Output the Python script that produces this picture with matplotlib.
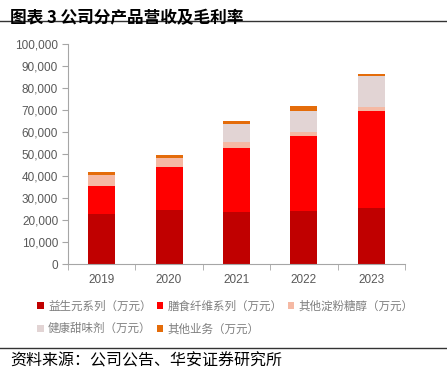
import matplotlib
matplotlib.use("Agg")
import matplotlib.pyplot as plt
import numpy as np
from matplotlib.ticker import FuncFormatter

plt.rcParams['font.family'] = ['Liberation Sans', 'Noto Sans CJK SC', 'DejaVu Sans']

# data (万元)
years = ['2019', '2020', '2021', '2022', '2023']
prebiotics = [22700, 24500, 23600, 24200, 25500]
fiber = [12900, 19400, 29100, 34000, 44200]
starch_sugar = [5000, 4300, 2600, 1600, 1800]
sweetener = [0, 0, 8300, 9600, 13800]
other = [1400, 1500, 1500, 2600, 1300]

series = [prebiotics, fiber, starch_sugar, sweetener, other]
labels = ['益生元系列（万元）', '膳食纤维系列（万元）', '其他淀粉糖醇（万元）',
          '健康甜味剂（万元）', '其他业务（万元）']
colors = ['#C00000', '#FF0000', '#F5B9A4', '#E2D4D4', '#E46C0A']

fig = plt.figure(figsize=(4.47, 3.73), dpi=100)
ax = fig.add_axes([0.152, 0.292, 0.754, 0.59])

x = np.arange(len(years))
bottom = np.zeros(len(years))
handles = []
for vals, lab, c in zip(series, labels, colors):
    h = ax.bar(x, vals, width=0.4, bottom=bottom, color=c, label=lab, linewidth=0)
    handles.append(h)
    bottom += np.array(vals)

ax.set_ylim(0, 100000)
ax.set_xlim(-0.5, 4.5)
ax.set_yticks(np.arange(0, 100001, 10000))
ax.yaxis.set_major_formatter(FuncFormatter(lambda v, p: f'{int(v):,}'))
ax.set_xticks(x)
ax.set_xticklabels(years)
ax.set_xticks(np.arange(-0.5, 4.6, 1), minor=True)
ax.tick_params(axis='x', which='major', length=0, pad=7)
ax.tick_params(axis='x', which='minor', length=4, color='#A6A6A6')
ax.tick_params(axis='y', length=4, color='#A6A6A6', pad=3)
ax.tick_params(labelsize=8.5, labelcolor='#595959')
for s in ['top', 'right']:
    ax.spines[s].set_visible(False)
for s in ['left', 'bottom']:
    ax.spines[s].set_color('#A6A6A6')
    ax.spines[s].set_linewidth(0.8)

order = [0, 3, 1, 4, 2]
leg = fig.legend([handles[i] for i in order], [labels[i] for i in order],
                 loc='upper left', bbox_to_anchor=(0.06, 0.225), ncol=3,
                 frameon=False, handlelength=0.55, handleheight=0.55,
                 handletextpad=0.4, columnspacing=0.45, labelspacing=0.85,
                 prop={'family': ['Noto Sans CJK SC'], 'size': 8.3})
for t in leg.get_texts():
    t.set_color('#7F7F7F')

# title and source
fig.text(0.022, 0.975, '图表 3 公司分产品营收及毛利率', fontsize=12, fontweight='bold',
         va='top', family=['Noto Sans CJK SC', 'DejaVu Sans'])
fig.add_artist(plt.Line2D([0, 1], [0.945, 0.945], color='#333333', lw=1.0))
fig.add_artist(plt.Line2D([0, 1], [0.067, 0.067], color='#333333', lw=1.0))
fig.text(0.022, 0.033, '资料来源：公司公告、华安证券研究所', fontsize=11.5,
         va='center', family=['Noto Sans CJK SC', 'DejaVu Sans'])

fig.savefig('out.png', dpi=100)
